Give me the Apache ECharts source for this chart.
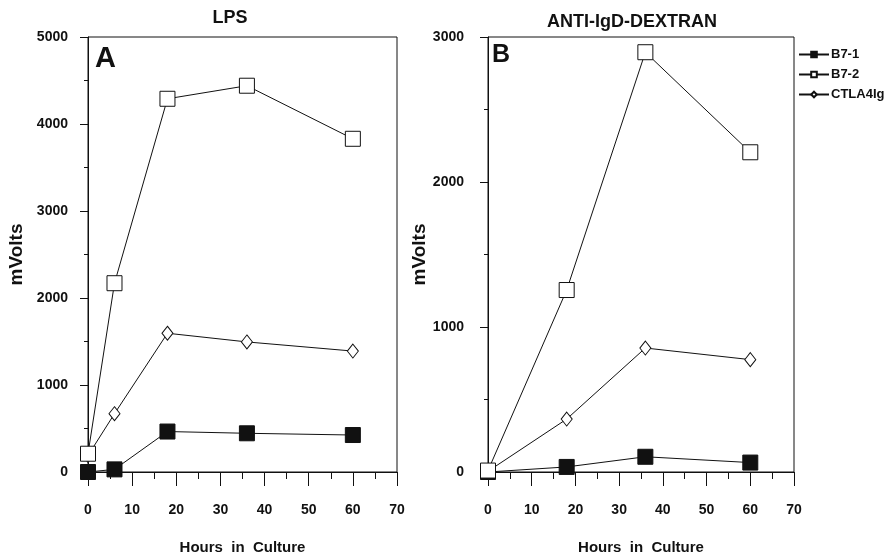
<!DOCTYPE html>
<html>
<head>
<meta charset="utf-8">
<script src="https://cdn.jsdelivr.net/npm/echarts@6/dist/echarts.min.js"></script>
<style>
  html, body { margin: 0; padding: 0; background: #fff; }
  #chart { width: 886px; height: 556px; }
</style>
</head>
<body>
<div id="chart"></div>
<script>
// Panel A: LPS
const hoursA = [0, 6, 18, 36, 60];
const lpsB71 = [0, 30, 465, 445, 425];
const lpsB72 = [210, 2170, 4290, 4440, 3830];
const lpsCtla = [190, 670, 1595, 1495, 1390];
// Panel B: ANTI-IgD-DEXTRAN
const hoursB = [0, 18, 36, 60];
const dexB71 = [0, 35, 105, 65];
const dexB72 = [10, 1255, 2895, 2205];
const dexCtla = [5, 365, 855, 775];

const xTicks = { min: 0, max: 70, interval: 10 };
const yTicksA = { min: 0, max: 5000, interval: 1000 };
const yTicksB = { min: 0, max: 3000, interval: 1000 };
const seriesNames = ['B7-1', 'B7-2', 'CTLA4Ig'];

const FONT = '"Liberation Sans", Arial, sans-serif';
const INK = '#111';

function pairs(xs, ys) { return xs.map((x, i) => [x, ys[i]]); }

function xAxisDef(gi) {
  return {
    type: 'value', gridIndex: gi,
    min: xTicks.min, max: xTicks.max, interval: xTicks.interval,
    axisLine: { show: true, lineStyle: { color: INK, width: 1 } },
    axisTick: { show: true, inside: false, length: 14, lineStyle: { color: INK } },
    minorTick: { show: true, splitNumber: 2, length: 7, lineStyle: { color: INK } },
    splitLine: { show: false },
    axisLabel: { color: INK, fontFamily: FONT, fontWeight: 'bold', fontSize: 14, margin: 31,
                 formatter: v => String(v) },
    name: 'Hours  in  Culture', nameLocation: 'middle', nameGap: 68,
    nameTextStyle: { color: INK, fontFamily: FONT, fontWeight: 'bold', fontSize: 15 }
  };
}
function yAxisDef(gi, t, margin, gap) {
  return {
    type: 'value', gridIndex: gi,
    min: t.min, max: t.max, interval: t.interval,
    axisLine: { show: true, lineStyle: { color: INK, width: 1 } },
    axisTick: { show: true, inside: false, length: 8, lineStyle: { color: INK } },
    minorTick: { show: true, splitNumber: 2, length: 4, lineStyle: { color: INK } },
    splitLine: { show: false },
    axisLabel: { color: INK, fontFamily: FONT, fontWeight: 'bold', fontSize: 14, margin: margin,
                 formatter: v => String(v) },
    name: 'mVolts', nameLocation: 'middle', nameGap: gap, nameRotate: 90,
    nameTextStyle: { color: INK, fontFamily: FONT, fontWeight: 'bold', fontSize: 19 }
  };
}
function lineSeries(name, gi, data, kind) {
  const base = {
    name: name, type: 'line', xAxisIndex: gi, yAxisIndex: gi,
    data: data, lineStyle: { color: INK, width: 1 }, showSymbol: true,
    animation: false, z: kind === 'open' ? 3 : 2
  };
  if (kind === 'filled') {
    base.symbol = 'rect'; base.symbolSize = 15;
    base.itemStyle = { color: INK, borderColor: INK, borderWidth: 1 };
  } else if (kind === 'open') {
    base.symbol = 'rect'; base.symbolSize = 15;
    base.itemStyle = { color: '#fff', borderColor: INK, borderWidth: 1 };
  } else {
    base.symbol = 'diamond'; base.symbolSize = [11, 14];
    base.itemStyle = { color: '#fff', borderColor: INK, borderWidth: 1 };
  }
  return base;
}

const chart = echarts.init(document.getElementById('chart'), null, { renderer: 'canvas' });
chart.setOption({
  backgroundColor: '#fff',
  animation: false,
  grid: [
    { left: 88, right: 489, top: 37, bottom: 84, outerBoundsMode: 'none', containLabel: false,
      show: true, borderColor: INK, borderWidth: 1, backgroundColor: 'transparent' },
    { left: 488, right: 92, top: 37, bottom: 84, outerBoundsMode: 'none', containLabel: false,
      show: true, borderColor: INK, borderWidth: 1, backgroundColor: 'transparent' }
  ],
  xAxis: [xAxisDef(0), xAxisDef(1)],
  yAxis: [yAxisDef(0, yTicksA, 20, 62), yAxisDef(1, yTicksB, 24, 56)],
  legend: {
    data: seriesNames, orient: 'vertical', left: 793, top: 43,
    itemWidth: 30, itemHeight: 7, itemGap: 7,
    textStyle: { color: INK, fontFamily: FONT, fontWeight: 'bold', fontSize: 13, padding: [0, 0, 0, -3] }
  },
  graphic: [
    { type: 'text', style: { text: 'LPS', x: 230, y: 18, align: 'center', verticalAlign: 'middle', fontFamily: FONT, fontWeight: 'bold', fontSize: 18, fill: INK } },
    { type: 'text', style: { text: 'ANTI-IgD-DEXTRAN', x: 632, y: 22, align: 'center', verticalAlign: 'middle', fontFamily: FONT, fontWeight: 'bold', fontSize: 18, fill: INK } },
    { type: 'text', style: { text: 'A', x: 95, y: 59, align: 'left', verticalAlign: 'middle', fontFamily: FONT, fontWeight: 'bold', fontSize: 29, fill: INK } },
    { type: 'text', style: { text: 'B', x: 492, y: 55, align: 'left', verticalAlign: 'middle', fontFamily: FONT, fontWeight: 'bold', fontSize: 25, fill: INK } }
  ],
  series: [
    lineSeries('B7-1', 0, pairs(hoursA, lpsB71), 'filled'),
    lineSeries('B7-2', 0, pairs(hoursA, lpsB72), 'open'),
    lineSeries('CTLA4Ig', 0, pairs(hoursA, lpsCtla), 'diamond'),
    lineSeries('B7-1', 1, pairs(hoursB, dexB71), 'filled'),
    lineSeries('B7-2', 1, pairs(hoursB, dexB72), 'open'),
    lineSeries('CTLA4Ig', 1, pairs(hoursB, dexCtla), 'diamond')
  ]
});
</script>
</body>
</html>
